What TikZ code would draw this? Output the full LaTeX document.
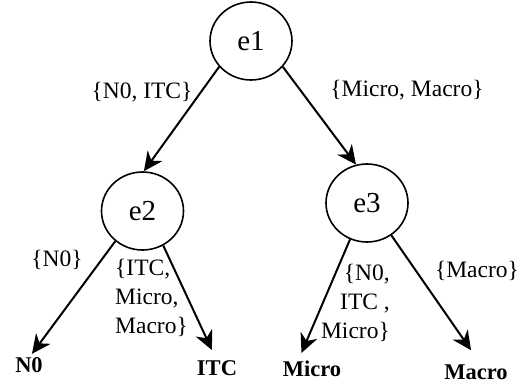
\documentclass[tikz,border=0pt]{standalone}
\usepackage{fontspec}
\setmainfont{Liberation Serif}
\usetikzlibrary{arrows.meta,shapes.geometric}
\begin{document}
\begin{tikzpicture}[x=1pt,y=-1pt,
  state/.style={draw,ellipse,line width=1.6pt,minimum width=82pt,minimum height=78pt,inner sep=0pt,font=\fontsize{29}{32}\selectfont},
  arr/.style={line width=2pt,-{Stealth[length=19pt,width=18pt,inset=6pt]}},
  lab/.style={inner sep=0pt,font=\fontsize{23.5}{29}\selectfont},
  leaf/.style={inner sep=0pt,anchor=base,font=\fontsize{22.5}{26}\selectfont\bfseries}]
\useasboundingbox (0,0) rectangle (531,387);
\node[state] (e1) at (251,41) {e1};
\node[state] (e2) at (142.5,211) {e2};
\node[state] (e3) at (367,203) {e3};
\node[leaf] (N0) at (29,373) {N0};
\node[leaf] (ITC) at (217,376) {ITC};
\node[leaf] (Micro) at (312,377) {Micro};
\node[leaf] (Macro) at (476,380) {Macro};
\node[lab,anchor=base] (l1) at (142,99) {\{N0, ITC\}};
\node[lab,anchor=base] (l2) at (407,97) {\{Micro, Macro\}};
\node[lab,anchor=base] (l3) at (57,267) {\{N0\}};
\node[lab,align=left,anchor=west] (l4) at (115,298) {\{ITC,\\Micro,\\Macro\}};
\node[lab,align=right,anchor=east] (l5) at (390,303) {\{N0,\\ITC ,\\Micro\}};
\node[lab,anchor=base] (l6) at (477,278) {\{Macro\}};
\draw[arr] (e1.219) -- (e2.88);
\draw[arr] (e1.321) -- (e3.106);
\draw[arr,shorten >=5pt] (e2.228) -- (N0.north);
\draw[arr,shorten >=12pt] (e2.301) -- (ITC.north);
\draw[arr,shorten >=9pt] (e3.245) -- (Micro.150);
\draw[arr,shorten >=18pt] (e3.307) -- (Macro.55);
\end{tikzpicture}
\end{document}
